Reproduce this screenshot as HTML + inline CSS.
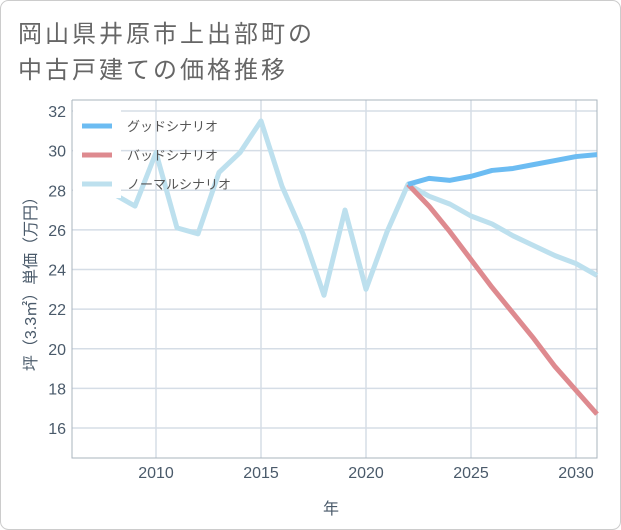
<!DOCTYPE html>
<html><head><meta charset="utf-8"><style>
body{margin:0;background:#fff}
svg{display:block;font-family:"Liberation Sans","Noto Sans CJK JP",sans-serif}
</style></head><body>
<svg id="c" width="621" height="530" viewBox="0 0 621 530">
<rect x="0.5" y="0.5" width="620" height="529" rx="8" fill="#fff" stroke="#ccc"/>
<text x="18" y="42" font-size="24" fill="#666" letter-spacing="3">岡山県井原市上出部町の</text>
<text x="18" y="78" font-size="24" fill="#666" letter-spacing="3">中古戸建ての価格推移</text>
<g id="grid"></g><g id="series"></g><g id="legend"></g>
<text x="331" y="514" font-size="16" fill="#4a5a6a" text-anchor="middle">年</text>
<text transform="translate(36,280) rotate(-90)" font-size="16" fill="#4a5a6a" text-anchor="middle">坪（3.3㎡）単価（万円）</text>
</svg>
<script>
const normYears=[2008,2009,2010,2011,2012,2013,2014,2015,2016,2017,2018,2019,2020,2021,2022,2023,2024,2025,2026,2027,2028,2029,2030,2031];
const normVals=[27.8,27.2,29.9,26.1,25.8,28.9,29.9,31.5,28.2,25.8,22.7,27.0,23.0,25.9,28.3,27.7,27.3,26.7,26.3,25.7,25.2,24.7,24.3,23.7];
const futYears=[2022,2023,2024,2025,2026,2027,2028,2029,2030,2031];
const goodVals=[28.3,28.6,28.5,28.7,29.0,29.1,29.3,29.5,29.7,29.8];
const badVals=[28.3,27.2,25.9,24.5,23.1,21.8,20.5,19.1,17.9,16.7];
const xTicks=[2010,2015,2020,2025,2030];
const yTicks=[16,18,20,22,24,26,28,30,32];
const legendLabels=["グッドシナリオ","バッドシナリオ","ノーマルシナリオ"];
const NS="http://www.w3.org/2000/svg";
const L=72,R=597,T=100,B=458;
const xs=y=>L+(y-2006)*(R-L)/25;
const ys=v=>428-(v-16)*(428-111)/16;
function mk(tag,attrs,parent){const e=document.createElementNS(NS,tag);for(const k in attrs)e.setAttribute(k,attrs[k]);parent.appendChild(e);return e;}
const grid=document.getElementById('grid');
yTicks.forEach(t=>{
 const l=mk('line',{x1:L,x2:R,y1:ys(t),y2:ys(t),stroke:'#d5dde6','stroke-width':1.5},grid);
 
 
 const tx=mk('text',{x:L-6,y:ys(t)+6,'font-size':16,fill:'#4a5a6a','text-anchor':'end'},grid);
 tx.textContent=t;
 
 
});
xTicks.forEach(t=>{
 const l=mk('line',{x1:xs(t),x2:xs(t),y1:T,y2:B,stroke:'#d5dde6','stroke-width':1.5},grid);
 
 
 const tx=mk('text',{x:xs(t),y:B+20,'font-size':16,fill:'#4a5a6a','text-anchor':'middle'},grid);
 tx.textContent=t;
 
 
});
const ax=mk('path',{d:`M${L},${T}V${B}H${R}V${T}H${L}`,fill:'none',stroke:'#aab4be','stroke-width':1},grid);


const ser=document.getElementById('series');
function line(xsArr,vals,color,name){
 const p=mk('polyline',{points:xsArr.map((y,i)=>xs(y)+','+ys(vals[i])).join(' '),fill:'none',stroke:color,'stroke-width':5,'stroke-linejoin':'round'},ser);
 
 
}
line(normYears,normVals,'#bde0ee','normal-scenario-line');
line(futYears,badVals,'#de8a8f','bad-scenario-line');
line(futYears,goodVals,'#6cbcf2','good-scenario-line');
const lg=document.getElementById('legend');
const bg=mk('rect',{x:73,y:108,width:48,height:90,fill:'#fff'},lg);


const cols=['#6cbcf2','#de8a8f','#bde0ee'];
legendLabels.forEach((s,i)=>{
 const y=126+i*29;
 const sw=mk('line',{x1:82,x2:112,y1:y,y2:y,stroke:cols[i],'stroke-width':5},lg);
 
 
 const tx=mk('text',{x:127,y:y+5,'font-size':13,fill:'#555'},lg);
 tx.textContent=s;
 
 
});
</script>
</body></html>
